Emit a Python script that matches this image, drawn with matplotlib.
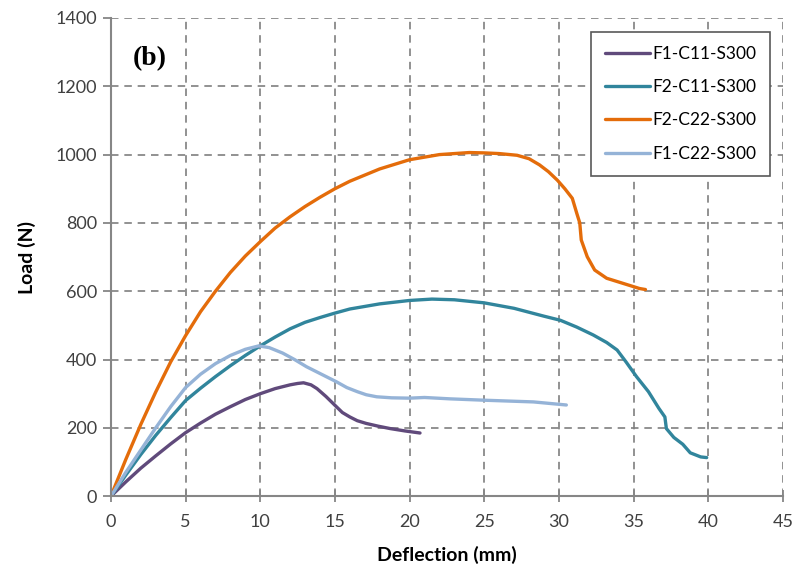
import matplotlib
matplotlib.use("Agg")
import matplotlib.pyplot as plt

# data (deflection mm, load N)
f1_c11_x = [0, 1, 2, 3, 4, 5, 6, 7, 8, 9, 10, 11, 12, 12.5, 12.9, 13.4, 13.8,
            14.4, 15.1, 15.5, 16.0, 16.5, 17.1, 17.9, 18.7, 19.7, 20.7]
f1_c11_y = [0, 42, 82, 118, 153, 186, 214, 240, 262, 283, 300, 315, 326, 330,
            332, 326, 315, 292, 262, 245, 232, 221, 213, 205, 198, 191, 185]

f2_c11_x = [0, 1, 2, 3, 4, 5, 6, 7, 8, 9, 10, 11, 12, 13, 14, 15, 16, 18, 20,
            21.5, 23, 25, 27, 29, 30.1, 31.2, 32.3, 33.2, 33.9, 34.5, 35.2,
            36.0, 36.7, 37.1, 37.2, 37.7, 38.3, 38.8, 39.5, 39.9]
f2_c11_y = [0, 62, 122, 178, 230, 280, 316, 350, 382, 412, 440, 466, 490, 509,
            523, 536, 548, 563, 573, 577, 575, 566, 550, 527, 515, 495, 472,
            450, 428, 393, 350, 306, 257, 232, 198, 172, 152, 127, 115, 113]

f2_c22_x = [0, 1, 2, 3, 4, 5, 6, 7, 8, 9, 10, 11, 12, 13, 14, 15, 16, 18, 20,
            22, 24, 25, 26, 27.2, 28.0, 28.7, 29.3, 29.9, 30.4, 30.9, 31.2,
            31.4, 31.5, 31.9, 32.4, 33.2, 34.3, 35.4, 35.8]
f2_c22_y = [0, 108, 210, 305, 393, 470, 540, 600, 655, 703, 745, 785, 818, 848,
            875, 900, 922, 958, 985, 1000, 1006, 1005, 1003, 998, 988, 970, 950,
            925, 900, 872, 828, 800, 750, 701, 662, 638, 623, 608, 605]

f1_c22_x = [0, 1, 2, 3, 4, 5, 6, 7, 8, 9, 9.9, 10.6, 11.5, 12.3, 13.1, 14.1,
            15.1, 15.8, 16.5, 17.1, 17.8, 18.8, 20.0, 21.0, 22.7, 25, 28.3,
            30.5]
f1_c22_y = [0, 70, 135, 200, 262, 318, 357, 388, 412, 430, 440, 435, 419, 400,
            379, 357, 335, 318, 306, 297, 291, 288, 287, 289, 285, 281, 276,
            267]

series = [
    ("F1-C11-S300", f1_c11_x, f1_c11_y, "#604A7B"),
    ("F2-C11-S300", f2_c11_x, f2_c11_y, "#31859C"),
    ("F2-C22-S300", f2_c22_x, f2_c22_y, "#E46C0A"),
    ("F1-C22-S300", f1_c22_x, f1_c22_y, "#95B3D7"),
]

plt.rcParams['font.family'] = ['Lato', 'DejaVu Sans']

fig = plt.figure(figsize=(7.98, 5.79), dpi=100)
ax = fig.add_axes([0.139, 0.143, 0.842, 0.826])

for name, xs, ys, col in series:
    ax.plot(xs, ys, color=col, lw=2.4, label=name,
            solid_capstyle='round', solid_joinstyle='round')

ax.set_xlim(0, 45)
ax.set_ylim(0, 1400)
ax.set_xticks(range(0, 46, 5))
ax.set_yticks(range(0, 1401, 200))
ax.grid(True, color='#7f7f7f', lw=1.2, linestyle=(0, (4.5, 3.5)))
ax.set_axisbelow(True)

for s in ['top', 'right']:
    ax.spines[s].set_visible(False)
for s in ['left', 'bottom']:
    ax.spines[s].set_color('#868686')
    ax.spines[s].set_linewidth(1.5)

ax.tick_params(axis='x', direction='inout', length=9, width=1.3,
               color='#868686', labelsize=13, labelcolor='#404040', pad=8)
ax.tick_params(axis='y', direction='out', length=6, width=1.3,
               color='#868686', labelsize=13, labelcolor='#404040', pad=4)

ax.set_xlabel('Deflection (mm)', fontsize=14, fontweight='bold', labelpad=12)
ax.set_ylabel('Load (N)', fontsize=14, fontweight='bold', labelpad=14)

ax.text(0.032, 0.915, '(b)', transform=ax.transAxes, fontsize=20,
        fontweight='bold', family='Liberation Serif', va='center')

leg = ax.legend(loc='upper right', bbox_to_anchor=(0.981, 0.971), fontsize=12.5,
                frameon=True, fancybox=False, handlelength=2.6,
                handletextpad=0.1, labelspacing=1.0, borderpad=0.8,
                borderaxespad=0)
leg.get_frame().set_edgecolor('#595959')
leg.get_frame().set_linewidth(1.2)
leg.get_frame().set_alpha(1)

fig.savefig('out.png', dpi=100)
